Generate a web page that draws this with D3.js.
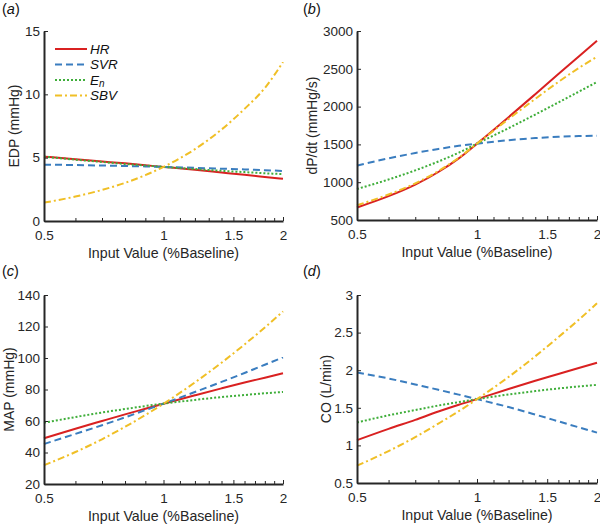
<!DOCTYPE html>
<html>
<head>
<meta charset="utf-8">
<script src="https://cdn.jsdelivr.net/npm/d3@7"></script>
<style>
  html, body { margin: 0; padding: 0; background: #fff; }
  svg { display: block; font-family: "Liberation Sans", Arial, Helvetica, sans-serif; }
</style>
</head>
<body>
<svg id="chart" width="600" height="525"></svg>
<script>
// ---------- data ----------
const xVals = [0.5, 0.6, 0.7, 0.8, 0.9, 1, 1.2, 1.4, 1.6, 1.8, 2];
const xMajorTicks = [0.5, 1, 1.5, 2];
const xMinorTicks = [0.6, 0.7, 0.8, 0.9, 1.1, 1.2, 1.3, 1.4, 1.6, 1.7, 1.8, 1.9];
const seriesNames = ["HR", "SVR", "En", "SBV"];

// (a) EDP (mmHg)
const edpHR  = [5.08, 4.88, 4.70, 4.55, 4.40, 4.27, 4.04, 3.83, 3.65, 3.48, 3.33];
const edpSVR = [4.45, 4.42, 4.38, 4.34, 4.31, 4.27, 4.20, 4.13, 4.07, 4.01, 3.95];
const edpEn  = [5.08, 4.84, 4.66, 4.50, 4.38, 4.27, 4.10, 3.96, 3.86, 3.77, 3.70];
const edpSBV = [1.45, 1.93, 2.45, 3.01, 3.62, 4.27, 5.67, 7.22, 8.85, 10.5, 12.55];
const edpTicks = [0, 5, 10, 15];

// (b) dP/dt (mmHg/s)
const dpHR  = [665, 815, 968, 1135, 1315, 1510, 1860, 2164, 2430, 2663, 2871];
const dpSVR = [1220, 1316, 1386, 1440, 1481, 1510, 1555, 1584, 1601, 1610, 1614];
const dpEn  = [910, 1036, 1156, 1274, 1390, 1510, 1715, 1895, 2055, 2197, 2325];
const dpSBV = [695, 838, 985, 1148, 1324, 1510, 1836, 2102, 2326, 2510, 2660];
const dpTicks = [500, 1000, 1500, 2000, 2500, 3000];

// (c) MAP (mmHg)
const mapHR  = [49.0, 55.1, 60.0, 64.2, 67.8, 71, 76.3, 80.7, 84.4, 87.5, 90.3];
const mapSVR = [45.4, 51.8, 57.3, 62.3, 66.9, 71, 78.4, 84.8, 90.5, 95.7, 100.4];
const mapEn  = [58.9, 62.5, 65.4, 67.6, 69.5, 71, 73.4, 75.2, 76.5, 77.6, 78.4];
const mapSBV = [31.9, 40.3, 48.4, 56.3, 63.8, 71, 84.5, 97.0, 108.6, 119.4, 129.6];
const mapTicks = [20, 40, 60, 80, 100, 120, 140];

// (d) CO (L/min)
const coHR  = [1.07, 1.22, 1.34, 1.45, 1.54, 1.615, 1.75, 1.86, 1.95, 2.03, 2.10];
const coSVR = [1.97, 1.89, 1.81, 1.74, 1.675, 1.615, 1.51, 1.41, 1.32, 1.24, 1.17];
const coEn  = [1.305, 1.40, 1.47, 1.53, 1.576, 1.615, 1.677, 1.722, 1.757, 1.784, 1.805];
const coSBV = [0.73, 0.925, 1.11, 1.29, 1.455, 1.615, 1.91, 2.185, 2.44, 2.67, 2.89];
const coTicks = [0.5, 1, 1.5, 2, 2.5, 3];

// ---------- styles ----------
const styles = {
  HR:  { color: "#d92121", dash: null },
  SVR: { color: "#3a7dbf", dash: "7,4" },
  En:  { color: "#3fae3a", dash: "2,2" },
  SBV: { color: "#f0bf26", dash: "7,3,2,3" }
};

const panels = [
  { tag: "a", ylabel: "EDP (mmHg)", ticks: edpTicks, series: [edpHR, edpSVR, edpEn, edpSBV],
    box: { l: 44, r: 283, t: 31, b: 221 }, ylabX: 14, legend: true },
  { tag: "b", ylabel: "dP/dt (mmHg/s)", ticks: dpTicks, series: [dpHR, dpSVR, dpEn, dpSBV],
    box: { l: 357, r: 597, t: 31, b: 220 }, ylabX: 312 },
  { tag: "c", ylabel: "MAP (mmHg)", ticks: mapTicks, series: [mapHR, mapSVR, mapEn, mapSBV],
    box: { l: 44, r: 283, t: 295, b: 484 }, ylabX: 9 },
  { tag: "d", ylabel: "CO (L/min)", ticks: coTicks, series: [coHR, coSVR, coEn, coSBV],
    box: { l: 357, r: 597, t: 295, b: 483 }, ylabX: 326 }
];

const svg = d3.select("#chart");
const axisColor = "#262626";

panels.forEach(p => {
  const x = d3.scaleLog().domain([0.5, 2]).range([p.box.l, p.box.r]);
  const y = d3.scaleLinear().domain([p.ticks[0], p.ticks[p.ticks.length - 1]]).range([p.box.b, p.box.t]);
  const g = svg.append("g");

  // series
  const line = d3.line().x((d, i) => x(xVals[i])).y(d => y(d)).curve(d3.curveMonotoneX);
  p.series.forEach((vals, k) => {
    const st = styles[seriesNames[k]];
    g.append("path").datum(vals)
      .attr("d", line)
      .attr("fill", "none")
      .attr("stroke", st.color)
      .attr("stroke-width", 2)
      .attr("stroke-dasharray", st.dash);
  });

  // x axis major
  const xAxis = g.append("g").attr("transform", `translate(0,${p.box.b})`)
    .call(d3.axisBottom(x).tickValues(xMajorTicks).tickSizeInner(-4).tickSizeOuter(0)
      .tickPadding(9).tickFormat(d => String(d)));
  // x axis minor
  const xMinor = g.append("g").attr("transform", `translate(0,${p.box.b})`)
    .call(d3.axisBottom(x).tickValues(xMinorTicks).tickSizeInner(-3).tickSizeOuter(0).tickFormat(""));
  xMinor.select(".domain").remove();
  // y axis
  const yAxis = g.append("g").attr("transform", `translate(${p.box.l},0)`)
    .call(d3.axisLeft(y).tickValues(p.ticks).tickSizeInner(-4).tickSizeOuter(0)
      .tickPadding(4).tickFormat(d => String(d)));

  [xAxis, xMinor, yAxis].forEach(a => {
    a.selectAll(".domain").attr("stroke", axisColor).attr("stroke-width", 2);
    a.selectAll(".tick line").attr("stroke", axisColor).attr("stroke-width", 1);
    a.selectAll(".tick text").attr("fill", axisColor).attr("font-size", 13.5)
      .attr("font-family", "Liberation Sans, Arial, sans-serif");
  });

  // axis labels
  g.append("text")
    .attr("x", (p.box.l + p.box.r) / 2).attr("y", p.box.b + 37)
    .attr("text-anchor", "middle").attr("font-size", 14.2).attr("fill", axisColor)
    .text("Input Value (%Baseline)");
  g.append("text")
    .attr("transform", `translate(${p.ylabX},${(p.box.t + p.box.b) / 2}) rotate(-90)`)
    .attr("dy", "0.35em")
    .attr("text-anchor", "middle").attr("font-size", 14).attr("fill", axisColor)
    .text(p.ylabel);

  // panel tag
  const tagX = p.box.l < 200 ? 2 : 303;
  const tagY = p.box.t < 200 ? 14 : 276;
  const t = g.append("text").attr("x", tagX).attr("y", tagY).attr("font-size", 14.5).attr("fill", "#111");
  t.append("tspan").text("(");
  t.append("tspan").attr("font-style", "italic").text(p.tag);
  t.append("tspan").text(")");

  // legend
  if (p.legend) {
    const lx0 = p.box.l + 11, lx1 = p.box.l + 43, ty = p.box.t + 18, step = 15.5;
    seriesNames.forEach((name, k) => {
      const st = styles[name];
      const yy = ty + k * step;
      g.append("line").attr("x1", lx0).attr("x2", lx1).attr("y1", yy).attr("y2", yy)
        .attr("stroke", st.color).attr("stroke-width", 2).attr("stroke-dasharray", st.dash);
      const tx = g.append("text").attr("x", lx1 + 3).attr("y", yy).attr("dy", "0.35em")
        .attr("font-size", 13.5).attr("font-style", "italic").attr("fill", "#111");
      if (name === "En") {
        tx.append("tspan").text("E");
        tx.append("tspan").attr("dy", "0.22em").attr("font-size", 10).text("n");
      } else {
        tx.text(name);
      }
    });
  }
});
</script>
</body>
</html>
